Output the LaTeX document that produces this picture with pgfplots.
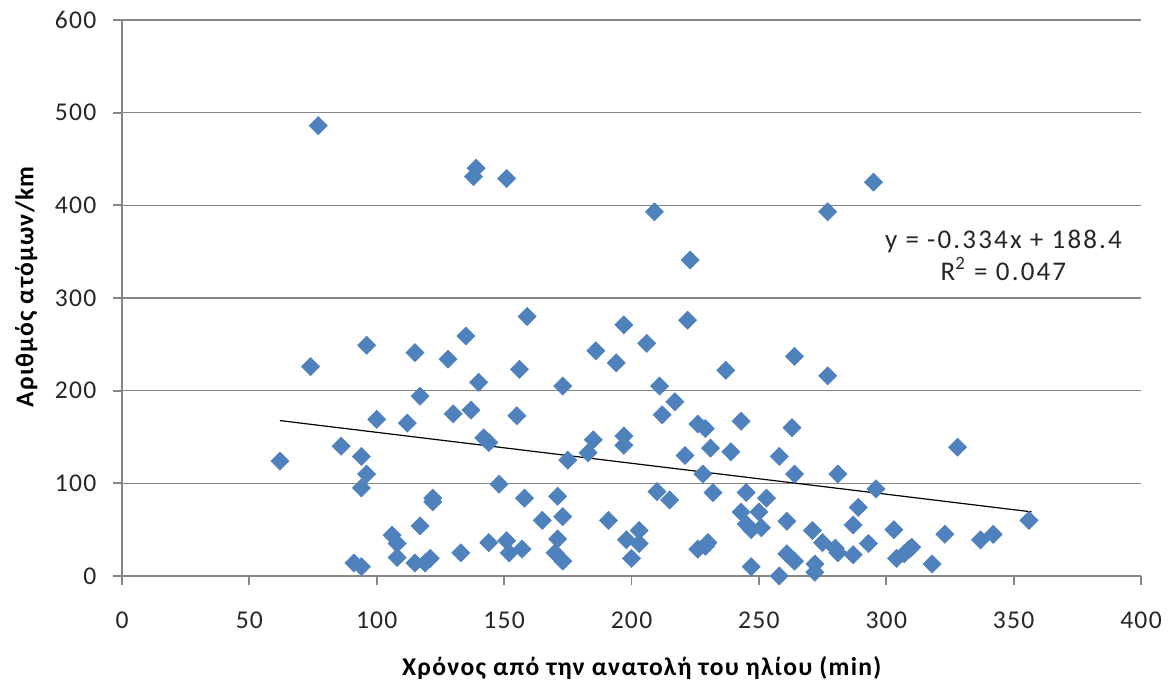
\documentclass[border=0pt]{standalone}
\usepackage{pgfplots}
\pgfplotsset{compat=1.18}
\usepackage{fontspec}
\setmainfont{Carlito}
\newfontfamily\lsA[LetterSpace=5]{Carlito}
\newfontfamily\lsB[LetterSpace=8]{Carlito}
\definecolor{ptblue}{HTML}{4F81BD}
\definecolor{gridgray}{HTML}{868686}
\begin{document}
\fontsize{12.5bp}{15bp}\selectfont
\begin{tikzpicture}
\begin{axis}[
  name=ax,
  scale only axis=true,
  width=509.5bp, height=278bp,
  xmin=0, xmax=400, ymin=0, ymax=600,
  xtick={0,50,...,400}, ytick={0,100,...,600},
  axis x line*=bottom, axis y line*=left,
  axis line style={gridgray, line width=0.9bp, -},
  ymajorgrids=true,
  major grid style={gridgray, line width=0.7bp},
  tick align=outside,
  major tick length=4.5bp,
  tick style={gridgray, line width=0.9bp},
  /pgf/number format/assume math mode=true,
  ticklabel style={font=\lsA\fontsize{12.8bp}{15bp}\selectfont, text=black!85},
  yticklabel style={xshift=-4bp},
  xticklabel style={yshift=-9bp},
  xlabel={\bfseries Χρόνος από την ανατολή του ηλίου (min)},
  ylabel={\bfseries Αριθμός ατόμων/km},
  every axis x label/.style={at={(axis description cs:0.51,0)}, anchor=center, yshift=-46bp, font=\lsA\fontsize{12.8bp}{15bp}\selectfont},
  every axis y label/.style={at={(axis description cs:-0.094,0.52)}, anchor=center, rotate=90, font=\lsA\fontsize{12.8bp}{15bp}\selectfont},
  clip=false,
]
\addplot[only marks, mark=square*, mark size=3.2bp, mark options={rotate=45, fill=ptblue, draw=ptblue, line width=0.3bp}] coordinates {
(77,486) (138,431) (139,440) (151,429) (209,393) (223,341) (277,393) (295,425)
(74,226) (62,124) (86,140) (96,249) (100,169) (94,129) (94,95) (96,110)
(91,14) (94,10) (112,165) (115,241) (117,194) (117,54) (106,44) (108,35)
(108,20) (115,14) (119,14) (121,19) (122,84) (122,80) (128,234) (130,175)
(135,259) (137,179) (133,25) (140,209) (142,149) (144,144) (144,36) (148,99)
(151,38) (152,25) (157,29) (158,84) (155,173) (156,223) (159,280) (165,60)
(173,205) (171,86) (171,40) (170,25) (173,16) (173,64) (175,125) (183,133)
(185,147) (186,243) (191,60) (194,230) (197,271) (197,151) (197,141) (198,39)
(200,19) (203,35) (203,49) (206,251) (210,91) (211,205) (212,174) (215,82)
(217,188) (221,130) (222,276) (226,164) (229,159) (231,138) (228,110) (232,90)
(226,29) (229,32) (230,36) (237,222) (239,134) (243,167) (243,69) (245,90)
(245,56) (247,50) (247,10) (250,69) (251,52) (253,84) (258,129) (258,0)
(261,59) (261,24) (263,160) (264,237) (264,110) (264,16) (271,49) (272,13)
(272,4) (275,36) (277,216) (281,110) (280,30) (281,25) (287,23) (287,55)
(289,74) (293,35) (296,94) (303,50) (304,19) (307,24) (309,29) (310,31)
(318,13) (323,45) (328,139) (337,39) (342,45) (356,60)
};
\addplot[black, line width=0.6bp] coordinates {(62,167.7) (357,69.2)};
\node[align=center, text=black!85, font=\lsB\fontsize{13.5bp}{16bp}\selectfont] at (axis cs:346,346.5) {y = -0.334x + 188.4\\R\textsuperscript{2} = 0.047};
\end{axis}
\pgfresetboundingbox
\path[use as bounding box] ([xshift=-61bp,yshift=-54bp]ax.south west) rectangle ([xshift=13.5bp,yshift=10bp]ax.north east);
\end{tikzpicture}
\end{document}
